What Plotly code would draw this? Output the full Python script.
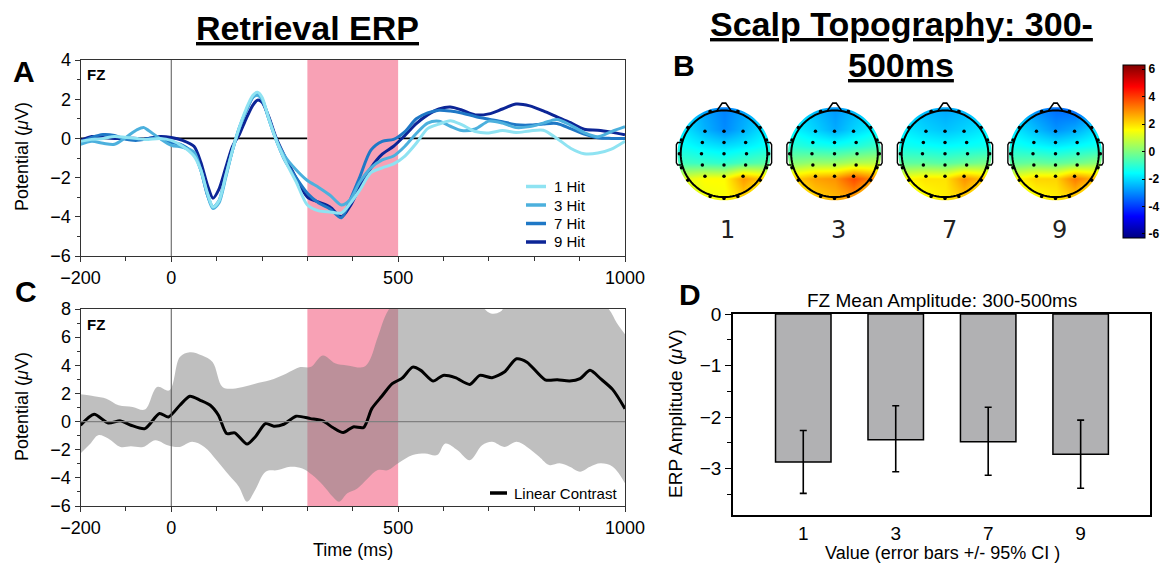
import math
import plotly.graph_objects as go

W, H = 1173, 566
def PX(x): return x / W
def PY(y): return 1 - y / H

FONT = "Liberation Sans, Arial, Helvetica, sans-serif"

# ---------------- Panel A : Retrieval ERP at FZ ----------------
t_erp = [-200, -175, -150, -125, -100, -75, -60, -50, -25, 0,
         25, 50, 65, 80, 92, 105, 120, 135, 150, 165,
         180, 190, 200, 215, 230, 250, 275, 300, 325, 350,
         375, 395, 415, 440, 465, 490, 515, 540, 565, 590,
         615, 640, 670, 700, 730, 760, 790, 820, 850, 880,
         910, 940, 970, 1000]
erp_1hit = [-0.15, -0.05, 0.0, 0.1, 0.05, 0.0, -0.05, -0.05, 0.0, -0.1,
            -0.4, -0.9, -1.6, -2.8, -3.5, -3.2, -1.9, -0.6, 0.55, 1.5,
            2.2, 2.35, 2.1, 1.0, 0.0, -1.1, -2.2, -3.4, -3.7, -3.75,
            -3.8, -3.3, -2.65, -1.75, -1.5, -1.3, -0.9, -0.25, 0.5, 0.73,
            0.9, 0.7, 0.35, 0.28, 0.4, 0.3, 0.38, 0.42, 0.0, -0.5,
            -0.78, -0.75, -0.55, -0.15]
erp_3hit = [-0.3, -0.15, -0.25, -0.3, 0.05, 0.45, 0.55, 0.4, 0.0, -0.35,
            -0.45, -0.7, -1.6, -2.9, -3.58, -3.3, -2.0, -0.6, 0.55, 1.4,
            2.1, 2.2, 2.0, 1.0, 0.0, -0.9, -1.6, -2.15, -2.5, -2.9,
            -3.4, -3.1, -2.25, -1.5, -1.1, -0.9, -0.4, 0.25, 0.78, 0.88,
            0.62, 0.4, 0.48, 0.88, 0.78, 0.55, 0.6, 0.78, 0.97, 0.68,
            0.3, 0.08, 0.35, 0.6]
erp_7hit = [-0.2, 0.05, 0.2, 0.15, -0.05, -0.1, -0.05, 0.0, 0.0, -0.2,
            -0.35, -0.8, -1.6, -2.9, -3.5, -3.2, -1.9, -0.6, 0.5, 1.4,
            2.1, 2.25, 2.0, 1.0, 0.0, -1.1, -2.0, -2.8, -3.3, -3.6,
            -4.05, -3.1, -2.0, -0.6, -0.15, -0.05, 0.35, 1.0, 1.3, 1.44,
            1.4, 1.3, 1.12, 0.98, 0.85, 0.7, 0.68, 0.74, 0.76, 0.5,
            0.22, 0.03, 0.0, 0.0]
erp_9hit = [-0.1, 0.1, 0.05, 0.0, 0.0, 0.0, -0.05, 0.0, 0.1, 0.05,
            -0.1, -0.4, -1.2, -2.4, -3.05, -2.6, -1.5, -0.4, 0.2, 1.0,
            1.7, 1.95, 1.85, 1.1, 0.1, -0.9, -2.0, -3.0, -3.25, -3.5,
            -4.0, -3.42, -2.5, -1.5, -0.8, -0.4, 0.15, 0.75, 1.2, 1.5,
            1.6, 1.45, 1.2, 1.25, 1.5, 1.75, 1.66, 1.4, 1.1, 0.8,
            0.47, 0.42, 0.32, 0.19]
erp_names = ["1 Hit", "3 Hit", "7 Hit", "9 Hit"]
erp_colors = ["#8fe3f2", "#4cb0dd", "#1f78c6", "#0c2596"]

win_start, win_end = 300, 500

# ---------------- Panel C : linear contrast with 95% band ----------------
t_lc = [-200, -170, -139, -112, -89, -58, -26, -6, 19, 41,
        64, 86, 104, 122, 140, 167, 185, 208, 226, 248,
        275, 307, 334, 356, 379, 401, 424, 442, 464, 487,
        509, 532, 550, 577, 599, 626, 658, 680, 707, 734,
        761, 784, 824, 851, 878, 901, 923, 946, 973, 1000]
lc = [-0.26, 0.52, -0.1, 0.05, -0.26, -0.5, 0.57, 0.33, 1.16, 1.8,
      1.51, 1.16, 0.45, -0.85, -0.8, -1.6, -1.09, -0.14, -0.33, -0.19,
      0.38, 0.21, 0.05, -0.42, -0.78, -0.38, -0.42, 0.92, 1.8, 2.69,
      3.09, 3.87, 3.64, 2.88, 3.28, 3.12, 2.64, 3.28, 3.12, 3.52,
      4.46, 4.22, 2.97, 2.97, 2.88, 3.05, 3.64, 3.05, 2.27, 0.92]

t_ci_up = [-200, -170, -143, -116, -85, -58, -31, -4, 19, 41,
           68, 91, 113, 136, 158, 185, 217, 253, 284, 307,
           334, 361, 388, 424, 437, 455, 478, 500, 523, 577,
           612, 658, 703, 725, 748, 793, 838, 883, 937, 964,
           982, 1000]
ci_up = [1.94, 1.8, 1.63, 1.16, 1.04, 0.85, 2.46, 2.22, 4.58, 4.93,
         4.7, 4.23, 2.46, 2.34, 2.46, 2.69, 2.93, 3.4, 3.87, 3.87,
         4.7, 4.15, 3.99, 3.87, 4.34, 5.99, 7.9, 8.6, 9.0, 8.1,
         8.8, 9.0, 7.7, 7.8, 8.8, 9.2, 9.2, 9.0, 8.6, 8.0,
         7.0, 6.2]

t_ci_lo = [-200, -179, -161, -139, -112, -89, -62, -35, -8, 19,
           46, 73, 100, 127, 149, 167, 185, 208, 235, 262,
           289, 311, 334, 356, 370, 388, 410, 433, 455, 478,
           500, 532, 559, 586, 604, 631, 658, 685, 707, 734,
           761, 784, 811, 833, 856, 878, 901, 923, 946, 973,
           1000]
ci_lo = [-2.27, -1.6, -0.97, -1.2, -1.8, -1.75, -1.8, -1.32, -1.68, -1.8,
         -1.44, -1.8, -2.74, -3.8, -4.63, -5.69, -4.86, -3.56, -3.45, -3.21,
         -3.33, -3.8, -4.51, -5.34, -5.69, -5.1, -4.75, -4.04, -3.45, -3.45,
         -2.97, -2.38, -2.27, -2.38, -1.56, -2.03, -2.74, -1.68, -1.44, -1.8,
         -1.44, -1.8, -2.5, -3.09, -2.97, -3.21, -3.56, -3.21, -2.97, -3.21,
         -4.39]

# ---------------- Panel B : scalp topographies (300-500 ms) ----------------
topo_labels = ["1", "3", "7", "9"]
topo_grid_y = [0.95, 0.57, 0.19, -0.19, -0.57, -0.95]   # front -> back
topo_grid_x = [-0.9, -0.45, 0.0, 0.45, 0.9]              # left -> right
topo_1 = [[-2.1, -2.7, -3.1, -2.7, -2.2],
          [-1.9, -2.5, -3.0, -2.5, -1.9],
          [-1.5, -1.8, -2.0, -1.8, -1.5],
          [-0.8, -0.9, -1.0, -0.7, -0.5],
          [1.2, 1.6, 1.6, 2.8, 2.2],
          [0.9, 1.4, 1.5, 2.2, 1.1]]
topo_3 = [[-1.9, -2.4, -2.8, -2.4, -1.9],
          [-1.7, -2.1, -2.6, -2.1, -1.7],
          [-1.1, -1.3, -1.4, -1.2, -0.9],
          [0.1, 0.3, 0.3, 0.6, 0.7],
          [2.2, 2.7, 2.9, 3.8, 3.0],
          [1.4, 2.2, 2.5, 2.9, 1.6]]
topo_7 = [[-2.1, -2.4, -2.6, -2.4, -2.2],
          [-1.8, -2.1, -2.3, -2.1, -1.8],
          [-1.4, -1.5, -1.6, -1.5, -1.4],
          [-0.4, -0.4, -0.5, -0.3, -0.1],
          [1.6, 1.9, 1.9, 2.9, 2.3],
          [1.1, 1.6, 1.8, 2.3, 1.3]]
topo_9 = [[-2.3, -2.9, -3.3, -3.3, -2.7],
          [-1.9, -2.4, -2.9, -2.6, -2.0],
          [-1.4, -1.6, -1.8, -1.6, -1.4],
          [-0.4, -0.3, -0.4, -0.2, 0.1],
          [1.6, 2.1, 2.1, 3.2, 2.5],
          [1.0, 1.6, 1.8, 2.3, 1.1]]
topo_maps = [topo_1, topo_3, topo_7, topo_9]
cbar_ticks = [-6, -4, -2, 0, 2, 4, 6]

# electrode layout (head-radius units)
elec_x = [-0.44, 0, 0.44, -0.5, 0, 0.5, -0.52, 0, 0.52, -0.5, 0, 0.5, -0.44, 0, 0.44]
elec_y = [0.52, 0.52, 0.52, 0.26, 0.26, 0.26, 0, 0, 0, -0.26, -0.26, -0.26, -0.52, -0.52, -0.52]
rim_angles = [-162, -126, -108, -90, -72, -54, -18, 18, 54, 72, 90, 108, 126, 162, 180]

# ---------------- Panel D : mean amplitude 300-500 ms ----------------
d_cats = ["1", "3", "7", "9"]
d_mean = [-2.87, -2.44, -2.48, -2.72]
d_ci_hi = [-2.26, -1.78, -1.81, -2.06]
d_ci_lo = [-3.48, -3.06, -3.13, -3.38]

# MATLAB-style jet colour map
JET = [[0.0, "rgb(0,0,128)"], [0.125, "rgb(0,0,255)"], [0.375, "rgb(0,255,255)"],
       [0.625, "rgb(255,255,0)"], [0.875, "rgb(255,0,0)"], [1.0, "rgb(128,0,0)"]]

# =====================================================================
fig = go.Figure()

# ---- A traces (draw darkest first so palest sits on top) ----
for k in [3, 2, 1, 0]:
    ys = [erp_1hit, erp_3hit, erp_7hit, erp_9hit][k]
    fig.add_trace(go.Scatter(
        x=t_erp, y=ys, mode="lines", name=erp_names[k],
        line=dict(color=erp_colors[k], width=3, shape="spline", smoothing=0.8),
        xaxis="x", yaxis="y", showlegend=False))

# ---- C traces ----
fig.add_trace(go.Scatter(x=t_ci_lo, y=ci_lo, mode="lines",
                         line=dict(width=0, color="rgba(0,0,0,0)", shape="spline"),
                         showlegend=False, hoverinfo="skip", xaxis="x2", yaxis="y2"))
fig.add_trace(go.Scatter(x=t_ci_up, y=ci_up, mode="lines",
                         line=dict(width=0, color="rgba(0,0,0,0)", shape="spline"),
                         fill="tonexty", fillcolor="rgba(128,128,128,0.5)",
                         showlegend=False, hoverinfo="skip", xaxis="x2", yaxis="y2"))
fig.add_trace(go.Scatter(x=t_lc, y=lc, mode="lines", name="Linear Contrast",
                         line=dict(color="black", width=3, shape="spline", smoothing=0.7),
                         xaxis="x2", yaxis="y2", showlegend=False))

# ---- B : head geometry (axis x3/y3, 1 unit = head radius) ----
R_PX = 43.3
HEAD_CX_PX = [724, 834.5, 945, 1055.5]
B_X0, B_X1, B_Y0, B_Y1 = 670, 1111, 100, 207
HEAD_CY_PX = 153.8
head_cx = [(c - HEAD_CX_PX[0]) / R_PX for c in HEAD_CX_PX]
x3_range = [-(HEAD_CX_PX[0] - B_X0) / R_PX, (B_X1 - HEAD_CX_PX[0]) / R_PX]
y3_range = [-(B_Y1 - HEAD_CY_PX) / R_PX, (HEAD_CY_PX - B_Y0) / R_PX]
half_gap = (head_cx[1] - head_cx[0]) / 2

for k, zmap in enumerate(topo_maps):
    fig.add_trace(go.Heatmap(
        x=[head_cx[k] + gx for gx in topo_grid_x], y=topo_grid_y, z=zmap,
        zsmooth="best", coloraxis="coloraxis", xaxis="x3", yaxis="y3",
        hoverinfo="skip"))

ex_all, ey_all = [], []
for k in range(4):
    for a, b in zip(elec_x, elec_y):
        ex_all.append(head_cx[k] + a)
        ey_all.append(b)
    for ang in rim_angles:
        r = 1.035
        ex_all.append(head_cx[k] + r * math.sin(math.radians(ang)))
        ey_all.append(r * math.cos(math.radians(ang)))
fig.add_trace(go.Scatter(x=ex_all, y=ey_all, mode="markers",
                         marker=dict(color="black", size=3.5),
                         showlegend=False, hoverinfo="skip", xaxis="x3", yaxis="y3"))

# ---- D bars + 95% CI ----
fig.add_trace(go.Bar(
    x=d_cats, y=d_mean, width=0.6,
    marker=dict(color="#b1b1b3", line=dict(color="black", width=1.5)),
    error_y=dict(type="data", symmetric=False,
                 array=[hi - m for m, hi in zip(d_mean, d_ci_hi)],
                 arrayminus=[m - lo for m, lo in zip(d_mean, d_ci_lo)],
                 color="black", thickness=1.6, width=3.5),
    showlegend=False, xaxis="x4", yaxis="y4"))

# ---------------- shapes ----------------
shapes = []
# Panel A (zero line interrupted by the analysis window, which covers it)
for xa, xb in [(-200, win_start), (win_end, 1000)]:
    shapes.append(dict(type="line", xref="x", yref="y", x0=xa, x1=xb, y0=0, y1=0,
                       line=dict(color="black", width=1.6), layer="below"))
shapes.append(dict(type="line", xref="x", yref="y", x0=0, x1=0, y0=-6, y1=4,
                   line=dict(color="#555555", width=1), layer="below"))
shapes.append(dict(type="rect", xref="x", yref="y", x0=win_start, x1=win_end, y0=-6, y1=4,
                   fillcolor="#f8a1b5", line=dict(width=0), layer="below"))
# Panel C
shapes.append(dict(type="rect", xref="x2", yref="y2", x0=win_start, x1=win_end, y0=-6, y1=8,
                   fillcolor="#f8a1b5", line=dict(width=0), layer="below"))
shapes.append(dict(type="line", xref="x2", yref="y2", x0=-200, x1=1000, y0=0, y1=0,
                   line=dict(color="#808080", width=1.2), layer="above"))
shapes.append(dict(type="line", xref="x2", yref="y2", x0=0, x1=0, y0=-6, y1=8,
                   line=dict(color="#555555", width=1), layer="above"))

# legend samples (manual legends, short line keys as in the reference)
LEG_A_ROWS = [186.5, 205, 223.5, 242]
for k in range(4):
    shapes.append(dict(type="line", xref="paper", yref="paper",
                       x0=PX(526), x1=PX(546), y0=PY(LEG_A_ROWS[k]), y1=PY(LEG_A_ROWS[k]),
                       line=dict(color=erp_colors[k], width=3.5), layer="above"))
shapes.append(dict(type="line", xref="paper", yref="paper",
                   x0=PX(490), x1=PX(507), y0=PY(493), y1=PY(493),
                   line=dict(color="black", width=3.5), layer="above"))

# Panel B: white mask around each coloured disc, then head outlines
def circle_path(cx, cy, r, n=96, reverse=False):
    idx = range(n) if not reverse else range(n, 0, -1)
    pts = [(cx + r * math.cos(2 * math.pi * i / n), cy + r * math.sin(2 * math.pi * i / n)) for i in idx]
    s = "M{:.4f},{:.4f} ".format(*pts[0])
    s += " ".join("L{:.4f},{:.4f}".format(x, y) for x, y in pts[1:])
    return s + " Z"

R_COLOR = 1.075
for cx in head_cx:
    x0, x1 = cx - half_gap - 0.02, cx + half_gap + 0.02
    y0, y1 = y3_range[0] - 0.1, y3_range[1] + 0.1
    outer = "M{:.4f},{:.4f} L{:.4f},{:.4f} L{:.4f},{:.4f} L{:.4f},{:.4f} Z ".format(x0, y0, x1, y0, x1, y1, x0, y1)
    shapes.append(dict(type="path", xref="x3", yref="y3",
                       path=outer + circle_path(cx, 0, R_COLOR, reverse=True),
                       fillcolor="white", line=dict(width=0), layer="above"))
for cx in head_cx:
    shapes.append(dict(type="path", xref="x3", yref="y3", path=circle_path(cx, 0, 1.0),
                       fillcolor="rgba(0,0,0,0)", line=dict(color="black", width=2), layer="above"))
    nose = "M{:.3f},{:.3f} L{:.3f},{:.3f} L{:.3f},{:.3f} L{:.3f},{:.3f}".format(
        cx - 0.17, 0.985, cx - 0.04, 1.17, cx + 0.04, 1.17, cx + 0.17, 0.985)
    shapes.append(dict(type="path", xref="x3", yref="y3", path=nose,
                       fillcolor="rgba(0,0,0,0)", line=dict(color="black", width=1.6), layer="above"))
    for sgn in (-1, 1):
        ear = "M{:.3f},{:.3f} L{:.3f},{:.3f} L{:.3f},{:.3f} L{:.3f},{:.3f} L{:.3f},{:.3f} L{:.3f},{:.3f}".format(
            cx + sgn * 0.99, 0.26, cx + sgn * 1.07, 0.26, cx + sgn * 1.1, 0.21,
            cx + sgn * 1.1, -0.21, cx + sgn * 1.07, -0.26, cx + sgn * 0.99, -0.26)
        shapes.append(dict(type="path", xref="x3", yref="y3", path=ear,
                           fillcolor="rgba(0,0,0,0)", line=dict(color="black", width=1.4), layer="above"))

# ---------------- annotations ----------------
ann = []
def text(x, y, s, size, bold=False, angle=0, color="black", family=FONT, xanchor="center"):
    ann.append(dict(x=PX(x), y=PY(y), xref="paper", yref="paper", text=s, showarrow=False,
                    textangle=angle, xanchor=xanchor, yanchor="middle",
                    font=dict(size=size, color=color, family=family,
                              weight="bold" if bold else "normal")))

text(307, 28, "<u>Retrieval ERP</u>", 34, bold=True)
text(901, 24, "<u>Scalp Topography: 300-</u>", 34, bold=True)
text(901, 65, "<u>500ms</u>", 34, bold=True)
text(24, 71, "A", 30, bold=True)
text(684, 65, "B", 30, bold=True)
text(26, 291, "C", 30, bold=True)
text(690, 294, "D", 30, bold=True)
text(96, 74, "FZ", 15, bold=True)
text(96, 324, "FZ", 15, bold=True)
text(22, 157, "Potential (<i>μ</i>V)", 18, angle=-90)
text(22, 407, "Potential (<i>μ</i>V)", 18, angle=-90)
text(353, 550, "Time (ms)", 18)
text(675, 414, "ERP Amplitude (<i>μ</i>V)", 19, angle=-90)
text(942, 300, "FZ Mean Amplitude: 300-500ms", 19)
text(942, 553, "Value (error bars +/- 95% CI )", 18)
for k, lab in enumerate(topo_labels):
    text(HEAD_CX_PX[k] + 4, 230, lab, 24, color="#222222", family="DejaVu Sans, sans-serif")
for k in range(4):
    text(552, LEG_A_ROWS[k], erp_names[k], 15, xanchor="left")
text(512, 493, "Linear Contrast", 15, xanchor="left")

# ---------------- axes ----------------
axcommon = dict(showgrid=False, zeroline=False, showline=True, mirror=True,
                linecolor="#333333", linewidth=1, ticks="outside", tickcolor="#333333",
                tickfont=dict(size=18, family=FONT, color="black"), fixedrange=True)
xdom = [PX(80.5), PX(625)]
minor_x = dict(tickvals=[v for v in range(-100, 1000, 100)], ticks="outside", ticklen=4, tickcolor="#333333")

fig.update_layout(
    width=W, height=H, margin=dict(l=0, r=0, t=0, b=0, pad=0, autoexpand=False),
    paper_bgcolor="white", plot_bgcolor="white", showlegend=False,
    font=dict(family=FONT, color="black"),
    xaxis=dict(domain=xdom, range=[-200, 1000], anchor="y", tickvals=[-200, 0, 500, 1000],
               ticklen=5, minor=minor_x, **axcommon),
    yaxis=dict(domain=[PY(256), PY(60)], range=[-6, 4], anchor="x", tickvals=[-6, -4, -2, 0, 2, 4],
               ticklen=5, minor=dict(dtick=1, ticks="outside", ticklen=3, tickcolor="#333333"), **axcommon),
    xaxis2=dict(domain=xdom, range=[-200, 1000], anchor="y2", tickvals=[-200, 0, 500, 1000],
                ticklen=5, minor=minor_x, **axcommon),
    yaxis2=dict(domain=[PY(506), PY(309)], range=[-6, 8], anchor="x2",
                tickvals=[-6, -4, -2, 0, 2, 4, 6, 8], ticklen=5,
                minor=dict(dtick=1, ticks="outside", ticklen=3, tickcolor="#333333"), **axcommon),
    xaxis3=dict(domain=[PX(B_X0), PX(B_X1)], range=x3_range, anchor="y3", visible=False, fixedrange=True),
    yaxis3=dict(domain=[PY(B_Y1), PY(B_Y0)], range=y3_range, anchor="x3", visible=False, fixedrange=True),
    xaxis4=dict(domain=[PX(733), PX(1150)], range=[-0.76, 3.75], anchor="y4", type="category",
                showgrid=False, zeroline=False, showline=True, mirror=True, linecolor="black",
                linewidth=1.5, ticks="", tickfont=dict(size=19, family=FONT, color="black"), fixedrange=True),
    yaxis4=dict(domain=[PY(515), PY(314)], range=[-3.9, 0], anchor="x4", tickvals=[0, -1, -2, -3],
                showgrid=False, zeroline=False, showline=True, mirror=True, linecolor="black",
                linewidth=1.5, ticks="outside", ticklen=6, tickcolor="black",
                minor=dict(dtick=0.5, ticks="outside", ticklen=4, tickcolor="black"),
                tickfont=dict(size=19, family=FONT, color="black"), fixedrange=True),
    coloraxis=dict(colorscale=JET, cmin=-6.3, cmax=6.3,
                   colorbar=dict(x=PX(1123), xanchor="left", y=PY(151.6), yanchor="middle",
                                 len=173, lenmode="pixels", thickness=22, thicknessmode="pixels",
                                 xpad=0, ypad=0, outlinewidth=1, outlinecolor="black",
                                 tickvals=cbar_ticks, ticktext=[str(v) for v in cbar_ticks],
                                 ticks="inside", ticklen=3, tickcolor="black",
                                 tickfont=dict(size=12, family=FONT, color="black", weight="bold"))),
    shapes=shapes, annotations=ann,
)

# remove the default page margin so the figure sits at the window's top-left corner
fig.write_html("out.html", config={"displayModeBar": False},
               post_script="document.body.style.margin='0px';document.body.style.overflow='hidden';")
